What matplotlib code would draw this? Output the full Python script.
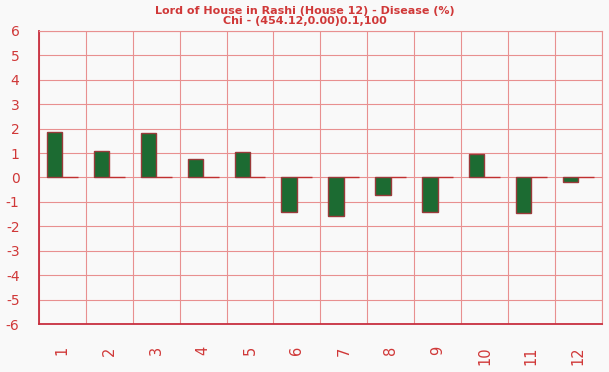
import matplotlib.pyplot as plt
import numpy as np

plt.rcParams['axes.unicode_minus'] = False

houses = ['1', '2', '3', '4', '5', '6', '7', '8', '9', '10', '11', '12']
disease = [1.84, 1.08, 1.80, 0.76, 1.04, -1.43, -1.56, -0.71, -1.43, 0.97, -1.47, -0.19]
baseline = [0, 0, 0, 0, 0, 0, 0, 0, 0, 0, 0, 0]
title = 'Lord of House in Rashi (House 12) - Disease (%)\nChi - (454.12,0.00)0.1,100'

red = '#d03838'
grid_red = '#e89090'

fig = plt.figure(figsize=(6.09, 3.72), dpi=100)
fig.patch.set_facecolor('#f9f9f9')
ax = fig.add_axes([0.064, 0.129, 0.924, 0.788])
ax.set_facecolor('#f9f9f9')

x = np.arange(len(houses))
w = 0.33
ax.bar(x - w / 2, disease, w, color='#1c6b32', edgecolor='#9a3a3a', linewidth=1, zorder=3)
ax.bar(x + w / 2, baseline, w, color='#1c6b32', edgecolor='#c03030', linewidth=1, zorder=3)

ax.set_xlim(-0.5, len(houses) - 0.5)
ax.set_ylim(-6, 6)
ax.set_yticks(range(-6, 7))
ax.set_xticks(x)
ax.set_xticklabels(houses, rotation=90)
ax.set_xticks(np.arange(-0.5, len(houses), 1), minor=True)
ax.grid(True, which='minor', axis='x', color=grid_red, linewidth=0.8, zorder=0)
ax.grid(True, which='major', axis='y', color=grid_red, linewidth=0.8, zorder=0)
ax.tick_params(axis='both', which='both', length=0, colors=red)
ax.tick_params(axis='y', labelsize=10, pad=14)
ax.tick_params(axis='x', labelsize=10.5, pad=16)

for side in ['left', 'bottom']:
    ax.spines[side].set_color('#c83040')
    ax.spines[side].set_linewidth(1.3)
for side in ['right', 'top']:
    ax.spines[side].set_color(grid_red)
    ax.spines[side].set_linewidth(0.8)

fig.text(0.5, 0.985, title, color=red, fontsize=8, fontweight='bold',
         ha='center', va='top', linespacing=1.05)

fig.savefig('out.png', dpi=100, facecolor=fig.get_facecolor())
